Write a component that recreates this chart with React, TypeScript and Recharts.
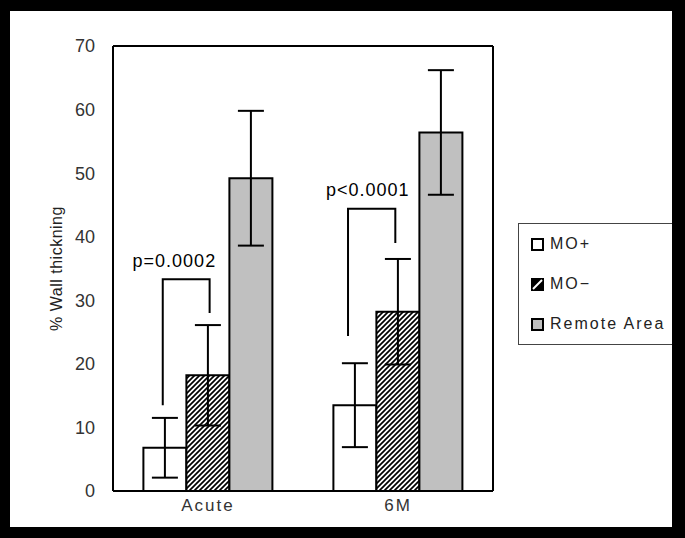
import React from 'react';
import {
  BarChart,
  Bar,
  XAxis,
  YAxis,
  ErrorBar,
  CartesianGrid,
  LabelList,
  Legend,
  Label,
} from 'recharts';

const categories = ['Acute', '6M'];
const moPlus = [6.8, 13.5];
const moPlusErr = [4.7, 6.6];
const moMinus = [18.2, 28.2];
const moMinusErr = [7.9, 8.3];
const remote = [49.2, 56.4];
const remoteErr = [10.6, 9.8];
const yTicks = [0, 10, 20, 30, 40, 50, 60, 70];
const seriesNames = ['MO+', 'MO\u2212', 'Remote Area'];

// significance brackets (x in bar widths from the left edge of the MO+ bar, y in data units)
const pLabels = ['p=0.0002', 'p<0.0001'];
const bracketLeftOff = [0.45, 0.34];
const bracketRightOff = [1.54, 1.44];
const bracketTopY = [33.3, 44.4];
const bracketLeftBottomY = [13.5, 24.4];
const bracketRightBottomY = [28.0, 39.0];
const pLabelOff = [0.72, 0.8];
const pLabelY = [36.2, 47.4];

const data = categories.map((c, i) => ({
  category: c,
  moPlus: moPlus[i],
  moPlusErr: moPlusErr[i],
  moMinus: moMinus[i],
  moMinusErr: moMinusErr[i],
  remote: remote[i],
  remoteErr: remoteErr[i],
}));

const fills = ['#ffffff', 'url(#hatch)', '#c0c0c0'];

const renderBracket = (props: any) => {
  const x = Number(props.x);
  const y = Number(props.y);
  const width = Number(props.width);
  const height = Number(props.height);
  let i = props.index;
  if (i === undefined || i === null) i = moPlus.indexOf(Number(props.value));
  if (i < 0 || i >= pLabels.length) return null;
  const value = moPlus[i];
  const base = y + height;
  const k = height / value;
  const py = (v: number) => base - v * k;
  const lx = x + bracketLeftOff[i] * width;
  const rx = x + bracketRightOff[i] * width;
  const d = `M${lx},${py(bracketLeftBottomY[i])} L${lx},${py(bracketTopY[i])} L${rx},${py(bracketTopY[i])} L${rx},${py(bracketRightBottomY[i])}`;
  return (
    <g>
      <path d={d} fill="none" stroke="#000" strokeWidth={2} />
      <text
        x={x + pLabelOff[i] * width}
        y={py(pLabelY[i])}
        textAnchor="middle"
        dominantBaseline="central"
        fill="#000"
        fontSize={18}
        fontFamily='"Liberation Sans", Arial, sans-serif'
        letterSpacing={1}
      >
        {pLabels[i]}
      </text>
    </g>
  );
};

const LegendIcon = ({ idx }: { idx: number }) => (
  <svg width={13} height={13} style={{ display: 'block' }}>
    {idx === 1 ? (
      <g>
        <rect x={1} y={1} width={11} height={11} fill="#000" stroke="#000" strokeWidth={2} />
        <line x1={2} y1={11} x2={11} y2={2} stroke="#fff" strokeWidth={2} />
      </g>
    ) : (
      <rect x={1} y={1} width={11} height={11} fill={fills[idx]} stroke="#000" strokeWidth={2} />
    )}
  </svg>
);

const legendContent = () => (
  <div
    style={{
      width: 154,
      height: 122,
      boxSizing: 'border-box',
      border: '1px solid #444',
      borderRight: 'none',
      background: '#fff',
      fontFamily: '"Liberation Sans", Arial, sans-serif',
      fontSize: 16,
      color: '#222',
    }}
  >
    {seriesNames.map((name) => (
      <div key={name} style={{ display: 'flex', alignItems: 'center', height: 40, paddingLeft: 12 }}>
        <LegendIcon idx={seriesNames.indexOf(name)} />
        <span style={{ marginLeft: 6, letterSpacing: 2, lineHeight: '16px' }}>{name}</span>
      </div>
    ))}
  </div>
);

export default function App() {
  return (
    <div style={{ position: 'relative', width: 685, height: 538, background: '#000', overflow: 'hidden' }}>
      <style>{'body{margin:0}'}</style>
      <svg width={0} height={0} style={{ position: 'absolute' }}>
        <defs>
          <pattern id="hatch" patternUnits="userSpaceOnUse" width={5} height={5}>
            <rect x={0} y={0} width={5} height={5} fill="#fff" />
            <path d="M-1,1 L1,-1 M0,5 L5,0 M4,6 L6,4" stroke="#000" strokeWidth={1.7} />
          </pattern>
        </defs>
      </svg>
      <div style={{ position: 'absolute', left: 10, top: 11, width: 662, height: 516, background: '#fff' }} />
      <div style={{ position: 'absolute', left: 0, top: 0 }}>
        <BarChart
          width={685}
          height={538}
          data={data}
          margin={{ top: 46, right: 192, bottom: 17, left: 0 }}
          barCategoryGap="16%"
          barGap={0}
        >
          <CartesianGrid
            stroke="#000"
            strokeWidth={2}
            strokeDasharray=""
            horizontalCoordinatesGenerator={({ offset }: any) => [offset.top, offset.top + offset.height]}
            verticalCoordinatesGenerator={({ offset }: any) => [offset.left, offset.left + offset.width]}
          />
          <XAxis
            dataKey="category"
            axisLine={false}
            tickLine={false}
            height={30}
            tick={{ fill: '#333', fontSize: 17, fontFamily: '"Liberation Sans", Arial, sans-serif', letterSpacing: 2 }}
          />
          <YAxis
            domain={[0, 70]}
            ticks={yTicks}
            width={113}
            axisLine={false}
            tickLine={false}
            tickSize={6}
            tickMargin={12}
            tick={{ fill: '#333', fontSize: 18, fontFamily: '"Liberation Sans", Arial, sans-serif' }}
          >
            <Label
              value="% Wall thickning"
              angle={-90}
              position="center"
              style={{ fill: '#222', fontSize: 16, fontFamily: '"Liberation Sans", Arial, sans-serif', letterSpacing: 0.5 }}
            />
          </YAxis>
          <Bar dataKey="moPlus" name={seriesNames[0]} fill={fills[0]} stroke="#000" strokeWidth={2} isAnimationActive={false}>
            <ErrorBar dataKey="moPlusErr" width={13} stroke="#000" strokeWidth={2} />
            <LabelList dataKey="moPlus" content={renderBracket} />
          </Bar>
          <Bar dataKey="moMinus" name={seriesNames[1]} fill={fills[1]} stroke="#000" strokeWidth={2} isAnimationActive={false}>
            <ErrorBar dataKey="moMinusErr" width={13} stroke="#000" strokeWidth={2} />
          </Bar>
          <Bar dataKey="remote" name={seriesNames[2]} fill={fills[2]} stroke="#000" strokeWidth={2} isAnimationActive={false}>
            <ErrorBar dataKey="remoteErr" width={13} stroke="#000" strokeWidth={2} />
          </Bar>
          <Legend
            layout="horizontal"
            verticalAlign="middle"
            align="center"
            content={legendContent}
            wrapperStyle={{ left: 518, top: 223, width: 154, height: 122 }}
          />
        </BarChart>
      </div>
    </div>
  );
}
